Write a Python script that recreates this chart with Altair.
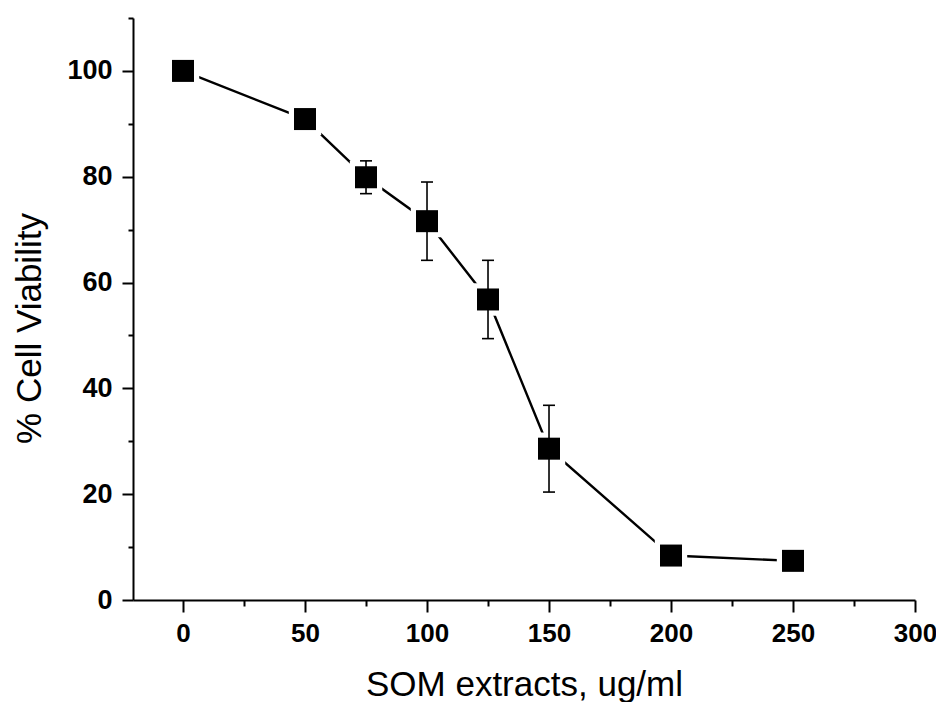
import altair as alt
import pandas as pd

conc = [0, 50, 75, 100, 125, 150, 200, 250]
viability = [100.0, 90.9, 79.9, 71.6, 56.8, 28.6, 8.4, 7.4]
error = [0.8, 0.8, 3.1, 7.4, 7.4, 8.2, 0.8, 0.8]

x_major = [0, 50, 100, 150, 200, 250, 300]
x_minor = [25, 75, 125, 175, 225, 275]
y_major = [0, 20, 40, 60, 80, 100]
y_minor = [10, 30, 50, 70, 90, 110]

df = pd.DataFrame({"conc": conc, "via": viability, "err": error})
df["lo"] = df["via"] - df["err"]
df["hi"] = df["via"] + df["err"]

FONT = "Liberation Sans"
xs = alt.Scale(domain=[-20.5, 300], nice=False, zero=False)
ys = alt.Scale(domain=[0, 110], nice=False)

base = alt.Chart(df)

major_x = alt.Axis(values=x_major, orient="bottom", title="SOM extracts, ug/ml",
                   tickSize=12, tickWidth=2, domainWidth=2, domainColor="black",
                   tickColor="black", labelFont=FONT, labelFontSize=26,
                   labelFontWeight="bold", labelColor="black", labelPadding=8,
                   titleFont=FONT, titleFontSize=35, titleFontWeight="normal",
                   titleColor="black", titleY=95, titleBaseline="alphabetic",
                   grid=False, labelFlush=False, labelOverlap=False)
major_y = alt.Axis(values=y_major, orient="left", title="% Cell Viability",
                   tickSize=11, tickWidth=2, domainWidth=2, domainColor="black",
                   tickColor="black", labelFont=FONT, labelFontSize=27,
                   labelFontWeight="bold", labelColor="black", labelPadding=10,
                   titleFont=FONT, titleFontSize=35, titleFontWeight="normal",
                   titleColor="black", titleX=-104, titleY=310,
                   titleBaseline="middle", grid=False, labelFlush=False,
                   labelOverlap=False)
minor_x = alt.Axis(values=x_minor, orient="bottom", title=None, labels=False,
                   tickSize=6, tickWidth=2, tickColor="black", domain=False,
                   grid=False)
minor_y = alt.Axis(values=y_minor, orient="left", title=None, labels=False,
                   tickSize=5, tickWidth=2, tickColor="black", domain=False,
                   grid=False)

line = base.mark_line(color="black", strokeWidth=2.4).encode(
    x=alt.X("conc:Q", scale=xs, axis=major_x),
    y=alt.Y("via:Q", scale=ys, axis=major_y),
)
minor = base.mark_point(opacity=0).encode(
    x=alt.X("conc:Q", scale=xs, axis=minor_x),
    y=alt.Y("via:Q", scale=ys, axis=minor_y),
)
halo = base.mark_square(size=1050, color="white", opacity=1).encode(
    x=alt.X("conc:Q", scale=xs, axis=None),
    y=alt.Y("via:Q", scale=ys, axis=None),
)
rules = base.mark_rule(color="black", strokeWidth=1.6).encode(
    x=alt.X("conc:Q", scale=xs, axis=None),
    y=alt.Y("lo:Q", scale=ys, axis=None),
    y2="hi:Q",
)
cap_hi = base.mark_tick(orient="horizontal", size=12, thickness=1.6,
                        color="black", opacity=1).encode(
    x=alt.X("conc:Q", scale=xs, axis=None),
    y=alt.Y("hi:Q", scale=ys, axis=None),
)
cap_lo = base.mark_tick(orient="horizontal", size=12, thickness=1.6,
                        color="black", opacity=1).encode(
    x=alt.X("conc:Q", scale=xs, axis=None),
    y=alt.Y("lo:Q", scale=ys, axis=None),
)
squares = base.mark_square(size=484, color="black", opacity=1).encode(
    x=alt.X("conc:Q", scale=xs, axis=None),
    y=alt.Y("via:Q", scale=ys, axis=None),
)

chart = alt.layer(line, minor, halo, rules, cap_hi, cap_lo, squares).resolve_axis(
    x="independent", y="independent"
).properties(
    width=782, height=582, autosize="none",
    padding={"left": 125, "top": 10, "right": 21, "bottom": 102},
    background="white",
).configure_view(stroke=None)

chart.save("out.html", embed_options={"renderer": "svg", "actions": False})
